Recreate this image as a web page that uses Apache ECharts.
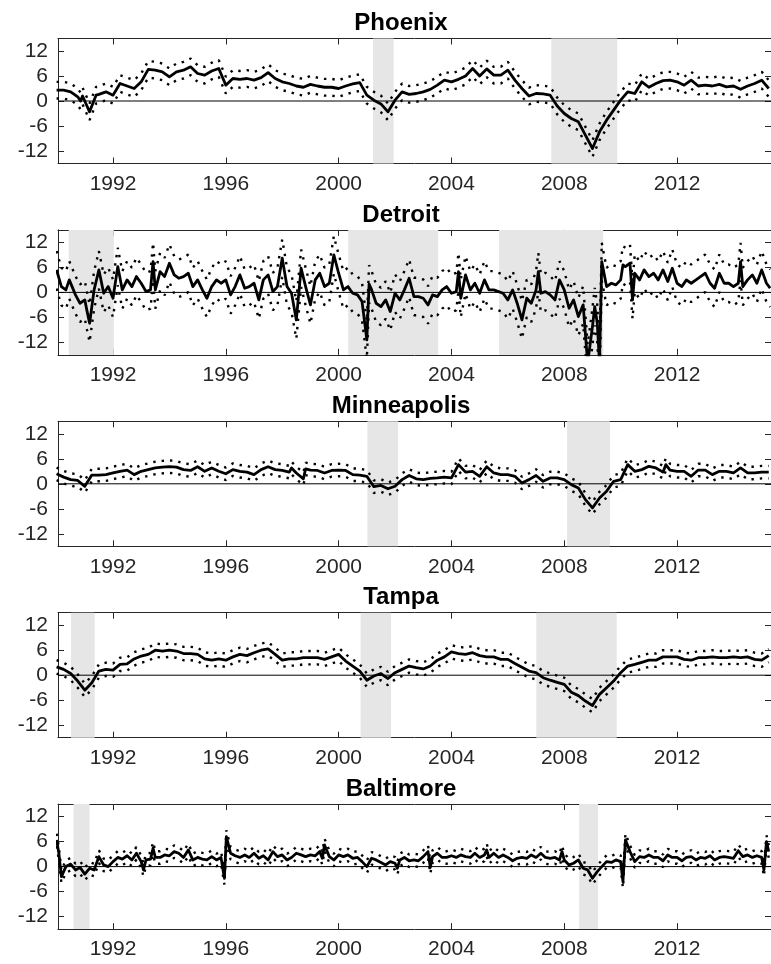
<!DOCTYPE html>
<html>
<head>
<meta charset="utf-8">
<script src="https://cdn.jsdelivr.net/npm/echarts@6/dist/echarts.min.js"></script>
<style>
html, body { margin: 0; padding: 0; background: #fff; }
#chart { width: 771px; height: 964px; }
</style>
</head>
<body>
<div id="chart"></div>
<script>
const yearTicks = [1992, 1996, 2000, 2004, 2008, 2012];
const valueTicks = [-12, -6, 0, 6, 12];

// [year, growth]
const phoenix = [
  [1990.0, 2.6], [1990.25, 2.6], [1990.5, 2.2], [1990.75, 1.0], [1990.85, 0.0], [1990.92, 1.2],
  [1991.17, -2.6], [1991.4, 1.4], [1991.5, 1.6], [1991.75, 2.2], [1992.0, 1.4], [1992.25, 4.2],
  [1992.5, 3.6], [1992.75, 3.0], [1993.0, 4.6], [1993.25, 7.6], [1993.5, 7.4], [1993.75, 7.0],
  [1994.0, 5.8], [1994.25, 7.0], [1994.5, 7.4], [1994.75, 8.2], [1995.0, 6.6], [1995.25, 6.2],
  [1995.5, 7.2], [1995.75, 7.8], [1996.0, 3.8], [1996.25, 5.4], [1996.5, 5.2], [1996.75, 5.4],
  [1997.0, 5.0], [1997.25, 5.6], [1997.5, 6.8], [1997.75, 5.4], [1998.0, 4.6], [1998.25, 4.2],
  [1998.5, 3.6], [1998.75, 3.3], [1999.0, 4.0], [1999.25, 3.6], [1999.5, 3.3], [1999.75, 3.3],
  [2000.0, 3.0], [2000.25, 3.6], [2000.5, 4.1], [2000.75, 4.4], [2001.0, 1.4], [2001.25, 0.2],
  [2001.5, -0.7], [2001.75, -2.6], [2002.0, 0.2], [2002.25, 2.2], [2002.5, 1.6], [2002.75, 1.8],
  [2003.0, 2.2], [2003.25, 2.8], [2003.5, 3.8], [2003.75, 5.0], [2004.0, 4.6], [2004.25, 5.2],
  [2004.5, 6.0], [2004.75, 7.8], [2005.0, 6.0], [2005.25, 7.7], [2005.5, 6.2], [2005.75, 6.2],
  [2006.0, 7.4], [2006.25, 5.0], [2006.5, 3.0], [2006.75, 1.2], [2007.0, 1.8], [2007.25, 1.7],
  [2007.5, 1.4], [2007.75, -1.2], [2008.0, -3.0], [2008.25, -4.2], [2008.5, -5.0], [2008.75, -8.2],
  [2009.0, -11.4], [2009.25, -7.4], [2009.5, -4.6], [2009.75, -2.2], [2010.0, 0.2], [2010.25, 2.2],
  [2010.5, 1.8], [2010.75, 4.6], [2011.0, 3.3], [2011.25, 4.2], [2011.5, 4.9], [2011.75, 5.0],
  [2012.0, 4.6], [2012.25, 3.8], [2012.5, 5.0], [2012.75, 3.6], [2013.0, 3.8], [2013.25, 3.6],
  [2013.5, 4.0], [2013.75, 3.4], [2014.0, 3.6], [2014.25, 2.8], [2014.5, 3.6], [2014.75, 4.2],
  [2015.0, 5.0], [2015.25, 3.0]
];
const phoenixBand = 2.0;
const phoenixShade = [[2001.22, 2001.95], [2007.54, 2009.88]];

const detroit = [
  [1990.0, 5.4], [1990.17, 1.4], [1990.33, 0.6], [1990.45, 3.0], [1990.67, -0.6], [1990.83, -2.6],
  [1991.0, -1.8], [1991.08, -4.5], [1991.17, -7.4], [1991.33, 0.6], [1991.5, 5.4], [1991.67, -0.2],
  [1991.83, 1.4], [1992.0, -1.4], [1992.17, 6.2], [1992.33, 0.6], [1992.5, 3.0], [1992.67, 1.4],
  [1992.83, 3.8], [1993.0, 2.2], [1993.17, 0.2], [1993.33, 0.6], [1993.42, 7.4], [1993.5, 0.6],
  [1993.67, 5.0], [1993.83, 3.8], [1994.0, 7.0], [1994.17, 4.2], [1994.33, 3.4], [1994.5, 3.8],
  [1994.67, 4.6], [1994.83, 1.4], [1995.0, 3.0], [1995.17, 0.6], [1995.33, -1.4], [1995.5, 1.4],
  [1995.67, 3.0], [1995.83, 2.2], [1996.0, 3.0], [1996.17, -0.6], [1996.33, 1.4], [1996.5, 4.2],
  [1996.67, 1.0], [1996.83, 1.4], [1997.0, 2.2], [1997.17, -1.8], [1997.33, 3.0], [1997.5, 4.2],
  [1997.67, 0.2], [1997.83, 1.4], [1998.0, 8.2], [1998.17, 1.4], [1998.33, -0.2], [1998.5, -6.6],
  [1998.67, 5.8], [1998.83, 1.4], [1999.0, -3.0], [1999.17, 3.0], [1999.33, 4.6], [1999.5, 1.4],
  [1999.67, 2.2], [1999.83, 9.0], [2000.0, 4.6], [2000.17, 0.6], [2000.33, 1.4], [2000.5, -0.2],
  [2000.67, -0.6], [2000.83, -2.2], [2001.0, -11.4], [2001.08, 2.0], [2001.17, 0.6], [2001.33, -2.6],
  [2001.5, -3.4], [2001.67, -1.8], [2001.83, -4.6], [2002.0, -0.2], [2002.17, -1.8], [2002.33, 0.6],
  [2002.5, 3.4], [2002.67, -1.0], [2002.83, -1.0], [2003.0, -1.4], [2003.17, -3.0], [2003.33, -0.6],
  [2003.5, -1.0], [2003.67, 0.6], [2003.83, 1.4], [2004.0, -0.2], [2004.17, 0.2], [2004.25, 5.0],
  [2004.33, -1.4], [2004.5, 4.2], [2004.67, 0.6], [2004.83, 2.2], [2005.0, -0.2], [2005.17, 3.0],
  [2005.33, 0.6], [2005.5, 0.6], [2005.67, 0.2], [2005.83, -0.2], [2006.0, -1.8], [2006.17, 0.6],
  [2006.33, -2.6], [2006.5, -6.6], [2006.67, -1.4], [2006.83, -2.6], [2007.0, 0.6], [2007.08, 5.0],
  [2007.17, -0.2], [2007.33, 0.2], [2007.5, -0.6], [2007.67, -1.8], [2007.83, 3.0], [2008.0, 0.6],
  [2008.17, -3.8], [2008.33, -1.8], [2008.5, -5.8], [2008.67, -3.0], [2008.83, -17], [2009.0, -8.2],
  [2009.08, -3.4], [2009.17, -7.4], [2009.25, -17], [2009.33, 7.4], [2009.5, 1.4], [2009.67, 2.2],
  [2009.83, 1.8], [2010.0, 3.0], [2010.08, 6.6], [2010.17, 6.2], [2010.33, 7.0], [2010.42, -1.8],
  [2010.5, 4.6], [2010.67, 3.0], [2010.83, 5.4], [2011.0, 3.8], [2011.17, 4.6], [2011.33, 3.0],
  [2011.5, 5.4], [2011.67, 2.6], [2011.83, 5.8], [2012.0, 2.2], [2012.17, 1.4], [2012.33, 3.0],
  [2012.5, 2.2], [2012.67, 3.0], [2012.83, 3.8], [2013.0, 4.6], [2013.17, 2.2], [2013.33, 1.0],
  [2013.5, 4.6], [2013.67, 2.2], [2013.83, 2.2], [2014.0, 1.4], [2014.17, 2.2], [2014.25, 7.4],
  [2014.33, 1.4], [2014.5, 3.0], [2014.67, 4.2], [2014.83, 2.2], [2015.0, 5.4], [2015.17, 2.2],
  [2015.3, 1.0]
];
const detroitBand = 4.5;
const detroitShade = [[1990.43, 1992.03], [2000.34, 2003.53], [2005.69, 2009.38]];

const minneapolis = [
  [1990.0, 2.4], [1990.25, 1.6], [1990.5, 1.0], [1990.75, 0.8], [1991.0, -0.6], [1991.25, 2.1],
  [1991.5, 2.1], [1991.75, 2.2], [1992.0, 2.6], [1992.25, 3.0], [1992.5, 3.3], [1992.75, 2.2],
  [1993.0, 3.0], [1993.25, 3.4], [1993.5, 3.8], [1993.75, 4.0], [1994.0, 4.1], [1994.25, 4.0],
  [1994.5, 3.4], [1994.75, 3.2], [1995.0, 4.1], [1995.25, 3.0], [1995.5, 3.8], [1995.75, 3.0],
  [1996.0, 2.4], [1996.25, 3.4], [1996.5, 3.0], [1996.75, 2.8], [1997.0, 2.2], [1997.25, 3.4],
  [1997.5, 4.1], [1997.75, 3.4], [1998.0, 3.2], [1998.25, 2.8], [1998.33, 3.8], [1998.5, 2.6],
  [1998.75, 1.2], [1998.83, 3.6], [1999.0, 3.3], [1999.25, 3.2], [1999.5, 2.6], [1999.75, 3.2],
  [2000.0, 3.3], [2000.25, 3.2], [2000.5, 2.2], [2000.75, 2.1], [2001.0, 1.8], [2001.25, -0.7],
  [2001.5, -0.4], [2001.75, -1.2], [2002.0, -0.6], [2002.25, 1.0], [2002.5, 2.0], [2002.75, 1.2],
  [2003.0, 1.0], [2003.25, 1.3], [2003.5, 1.4], [2003.75, 1.6], [2004.0, 1.4], [2004.25, 4.6],
  [2004.5, 2.8], [2004.75, 3.0], [2005.0, 1.8], [2005.25, 4.1], [2005.5, 2.6], [2005.75, 2.2],
  [2006.0, 2.2], [2006.25, 1.8], [2006.5, 0.2], [2006.75, 1.0], [2007.0, 2.0], [2007.25, 0.6],
  [2007.5, 1.4], [2007.75, 1.4], [2008.0, 1.0], [2008.25, -0.2], [2008.5, -1.0], [2008.75, -3.8],
  [2009.0, -5.8], [2009.25, -3.4], [2009.5, -1.8], [2009.75, 0.6], [2010.0, 1.0], [2010.25, 4.6],
  [2010.5, 3.0], [2010.75, 3.4], [2011.0, 4.2], [2011.25, 3.8], [2011.5, 2.8], [2011.6, 4.6],
  [2011.75, 3.3], [2012.0, 3.0], [2012.25, 3.0], [2012.5, 1.8], [2012.75, 3.3], [2013.0, 3.3],
  [2013.25, 2.2], [2013.5, 3.0], [2013.75, 3.0], [2014.0, 2.6], [2014.25, 3.8], [2014.5, 2.6],
  [2014.75, 2.6], [2015.0, 2.8], [2015.25, 2.8]
];
const minneapolisBand = 1.5;
const minneapolisShade = [[2001.02, 2002.11], [2008.10, 2009.62]];

const tampa = [
  [1990.0, 2.0], [1990.25, 1.4], [1990.5, 0.4], [1990.75, -1.4], [1991.0, -3.6], [1991.25, -1.8],
  [1991.5, 1.0], [1991.75, 1.4], [1992.0, 1.2], [1992.25, 2.6], [1992.5, 2.7], [1992.75, 3.9],
  [1993.0, 4.6], [1993.25, 5.0], [1993.5, 6.0], [1993.75, 5.8], [1994.0, 6.0], [1994.25, 5.8],
  [1994.5, 5.2], [1994.75, 5.2], [1995.0, 5.0], [1995.25, 3.9], [1995.5, 3.6], [1995.75, 3.9],
  [1996.0, 3.6], [1996.25, 4.4], [1996.5, 5.0], [1996.75, 4.7], [1997.0, 5.4], [1997.25, 6.0],
  [1997.5, 6.3], [1997.75, 5.0], [1998.0, 3.6], [1998.25, 3.9], [1998.5, 3.9], [1998.75, 4.2],
  [1999.0, 4.2], [1999.25, 4.2], [1999.5, 3.8], [1999.75, 4.4], [2000.0, 5.0], [2000.25, 3.4],
  [2000.5, 2.2], [2000.75, 1.0], [2001.0, -1.2], [2001.25, -0.2], [2001.5, 0.4], [2001.75, -0.8],
  [2002.0, 0.6], [2002.25, 1.4], [2002.5, 2.2], [2002.75, 1.8], [2003.0, 1.5], [2003.25, 2.2],
  [2003.5, 3.6], [2003.75, 4.4], [2004.0, 5.6], [2004.25, 5.2], [2004.5, 5.0], [2004.75, 5.4],
  [2005.0, 4.7], [2005.25, 4.4], [2005.5, 4.4], [2005.75, 3.8], [2006.0, 3.8], [2006.25, 2.8],
  [2006.5, 1.9], [2006.75, 1.0], [2007.0, 0.6], [2007.25, -0.6], [2007.5, -1.2], [2007.75, -1.7],
  [2008.0, -2.2], [2008.25, -4.1], [2008.5, -4.9], [2008.75, -6.2], [2009.0, -7.3], [2009.25, -4.6],
  [2009.5, -3.0], [2009.75, -1.4], [2010.0, 0.6], [2010.25, 2.2], [2010.5, 2.6], [2010.75, 3.1],
  [2011.0, 3.6], [2011.25, 3.6], [2011.5, 4.4], [2011.75, 4.4], [2012.0, 4.4], [2012.25, 3.8],
  [2012.5, 3.6], [2012.75, 4.2], [2013.0, 4.2], [2013.25, 4.4], [2013.5, 4.2], [2013.75, 4.2],
  [2014.0, 4.4], [2014.25, 4.2], [2014.5, 4.4], [2014.75, 3.8], [2015.0, 3.6], [2015.25, 4.7]
];
const tampaBand = 1.6;
const tampaShade = [[1990.51, 1991.35], [2000.78, 2001.86], [2007.01, 2009.86]];

const baltimore = [
  [1990.0, 6.4], [1990.08, 3.2], [1990.17, -2.4], [1990.33, 0.0], [1990.5, 0.6], [1990.67, -0.8],
  [1990.83, -0.2], [1991.0, -1.8], [1991.17, -0.4], [1991.33, -0.8], [1991.5, 2.4], [1991.67, 0.4],
  [1991.83, 0.0], [1992.0, 1.2], [1992.17, 2.2], [1992.33, 1.8], [1992.5, 2.6], [1992.67, 1.6],
  [1992.83, 3.2], [1993.0, 1.2], [1993.08, -0.8], [1993.17, 1.6], [1993.33, 1.8], [1993.42, 4.4],
  [1993.5, 2.2], [1993.67, 2.2], [1993.83, 2.8], [1994.0, 2.6], [1994.17, 3.6], [1994.33, 3.2],
  [1994.5, 2.2], [1994.67, 4.0], [1994.83, 1.6], [1995.0, 2.2], [1995.17, 1.8], [1995.33, 1.6],
  [1995.5, 2.4], [1995.67, 1.6], [1995.83, 2.2], [1995.95, -2.8], [1996.02, 7.2], [1996.17, 3.2],
  [1996.33, 2.6], [1996.5, 2.2], [1996.67, 2.8], [1996.83, 2.2], [1997.0, 3.2], [1997.17, 2.0],
  [1997.33, 2.6], [1997.5, 1.6], [1997.67, 3.6], [1997.83, 2.4], [1998.0, 2.8], [1998.17, 1.6],
  [1998.33, 2.2], [1998.5, 3.2], [1998.67, 2.8], [1998.83, 2.4], [1999.0, 2.8], [1999.17, 2.6],
  [1999.33, 3.6], [1999.42, 2.0], [1999.5, 5.2], [1999.67, 2.4], [1999.83, 1.6], [2000.0, 2.8],
  [2000.17, 2.4], [2000.33, 2.8], [2000.5, 2.0], [2000.67, 2.2], [2000.83, 1.2], [2001.0, 0.0],
  [2001.17, 2.0], [2001.33, 1.6], [2001.5, 1.0], [2001.67, 0.4], [2001.83, 1.2], [2002.0, 0.8],
  [2002.08, -0.4], [2002.17, 1.6], [2002.33, 2.2], [2002.5, 1.4], [2002.67, 1.6], [2002.83, 1.4],
  [2003.0, 2.4], [2003.17, 3.6], [2003.25, -0.2], [2003.33, 2.4], [2003.5, 3.2], [2003.67, 2.2],
  [2003.83, 2.2], [2004.0, 2.6], [2004.17, 2.2], [2004.33, 2.8], [2004.5, 2.4], [2004.67, 2.2],
  [2004.83, 3.2], [2005.0, 2.2], [2005.17, 2.8], [2005.25, 4.0], [2005.33, 2.2], [2005.5, 3.2],
  [2005.67, 2.2], [2005.83, 2.8], [2006.0, 2.2], [2006.17, 1.4], [2006.33, 2.0], [2006.5, 2.2],
  [2006.67, 2.0], [2006.83, 2.8], [2007.0, 2.2], [2007.17, 3.2], [2007.33, 2.2], [2007.5, 2.0],
  [2007.67, 2.2], [2007.83, 1.6], [2007.92, 3.6], [2008.0, 1.6], [2008.17, 0.4], [2008.33, 0.8],
  [2008.5, 1.6], [2008.67, -0.4], [2008.83, -0.8], [2009.0, -2.8], [2009.17, -1.2], [2009.33, 0.0],
  [2009.5, 1.2], [2009.67, 1.0], [2009.83, 1.6], [2010.0, 1.2], [2010.08, -3.6], [2010.17, 6.4],
  [2010.33, 3.6], [2010.5, 1.2], [2010.67, 2.4], [2010.83, 2.2], [2011.0, 2.8], [2011.17, 2.2],
  [2011.33, 2.2], [2011.5, 1.4], [2011.67, 2.8], [2011.83, 2.2], [2012.0, 2.2], [2012.17, 1.4],
  [2012.33, 2.2], [2012.5, 2.4], [2012.67, 1.6], [2012.83, 2.2], [2013.0, 2.0], [2013.17, 2.6],
  [2013.33, 1.6], [2013.5, 2.2], [2013.67, 2.4], [2013.83, 2.2], [2014.0, 2.0], [2014.17, 3.8],
  [2014.33, 2.4], [2014.5, 2.8], [2014.67, 2.2], [2014.83, 2.6], [2015.0, 2.2], [2015.08, -0.8],
  [2015.17, 6.0], [2015.25, 3.6]
];
const baltimoreBand = 1.5;
const baltimoreShade = [[1990.60, 1991.17], [2008.53, 2009.20]];

const panels = [
  { name: 'Phoenix', data: phoenix, band: phoenixBand, shade: phoenixShade },
  { name: 'Detroit', data: detroit, band: detroitBand, shade: detroitShade },
  { name: 'Minneapolis', data: minneapolis, band: minneapolisBand, shade: minneapolisShade },
  { name: 'Tampa', data: tampa, band: tampaBand, shade: tampaShade },
  { name: 'Baltimore', data: baltimore, band: baltimoreBand, shade: baltimoreShade }
];

const X_MIN = 1990.05;
const X_MAX = 2015.33;
const ink = '#262626';
const font = '"Liberation Sans", Arial, Helvetica, sans-serif';

const option = {
  animation: false,
  backgroundColor: '#fff',
  title: [],
  grid: [],
  xAxis: [],
  yAxis: [],
  series: []
};

panels.forEach((p, i) => {
  const top = 38.5 + i * 191.4;
  const xi = option.xAxis.length;
  const yi = option.yAxis.length;
  const line = { show: true, onZero: false, lineStyle: { color: ink, width: 1 } };

  option.title.push({
    text: p.name,
    left: 396,
    top: top - 32,
    textAlign: 'center',
    textStyle: { fontFamily: font, fontSize: 24, fontWeight: 'bold', color: '#000' }
  });
  option.grid.push({ left: 58, right: 0, top: top, height: 125 });

  // bottom + top x axis (box with inner ticks)
  option.xAxis.push({
    type: 'value', gridIndex: i, min: X_MIN, max: X_MAX, position: 'bottom',
    axisLine: line, splitLine: { show: false },
    axisTick: { inside: true, length: 6, customValues: yearTicks, lineStyle: { color: ink } },
    axisLabel: {
      customValues: yearTicks, margin: 10, color: ink, fontSize: 21, fontFamily: font,
      formatter: (v) => String(v)
    }
  });
  option.xAxis.push({
    type: 'value', gridIndex: i, min: X_MIN, max: X_MAX, position: 'top',
    axisLine: line, splitLine: { show: false },
    axisTick: { inside: true, length: 6, customValues: yearTicks, lineStyle: { color: ink } },
    axisLabel: { show: false }
  });
  option.yAxis.push({
    type: 'value', gridIndex: i, min: -15, max: 15, position: 'left',
    axisLine: line, splitLine: { show: false },
    axisTick: { inside: true, length: 6, customValues: valueTicks, lineStyle: { color: ink } },
    axisLabel: { customValues: valueTicks, margin: 10, color: ink, fontSize: 21, fontFamily: font }
  });
  option.yAxis.push({
    type: 'value', gridIndex: i, min: -15, max: 15, position: 'right',
    axisLine: line, splitLine: { show: false },
    axisTick: { inside: true, length: 6, customValues: valueTicks, lineStyle: { color: ink } },
    axisLabel: { show: false }
  });

  const axes = { xAxisIndex: xi, yAxisIndex: yi };

  // recession shading
  option.series.push(Object.assign({
    type: 'line', data: [[X_MIN, 0]], symbol: 'none', silent: true, z: 1,
    lineStyle: { opacity: 0 },
    markArea: {
      silent: true,
      itemStyle: { color: '#e6e6e6' },
      data: p.shade.map((s) => [{ xAxis: s[0] }, { xAxis: s[1] }])
    }
  }, axes));

  // zero line
  option.series.push(Object.assign({
    type: 'line', data: [[X_MIN, 0], [X_MAX, 0]], symbol: 'none', silent: true, z: 2,
    lineStyle: { color: '#000', width: 1 }
  }, axes));

  // dotted bands
  const dotted = { color: '#000', width: 2.4, type: [2.4, 6], cap: 'butt' };
  option.series.push(Object.assign({
    type: 'line', data: p.data.map((d) => [d[0], d[1] + p.band]), symbol: 'none', silent: true, z: 3,
    lineStyle: dotted
  }, axes));
  option.series.push(Object.assign({
    type: 'line', data: p.data.map((d) => [d[0], d[1] - p.band]), symbol: 'none', silent: true, z: 3,
    lineStyle: dotted
  }, axes));

  // estimate
  option.series.push(Object.assign({
    type: 'line', data: p.data, symbol: 'none', silent: true, z: 4,
    lineStyle: { color: '#000', width: 2.8, join: 'round' }
  }, axes));
});

const chart = echarts.init(document.getElementById('chart'), null, { renderer: 'canvas' });
chart.setOption(option);
</script>
</body>
</html>
